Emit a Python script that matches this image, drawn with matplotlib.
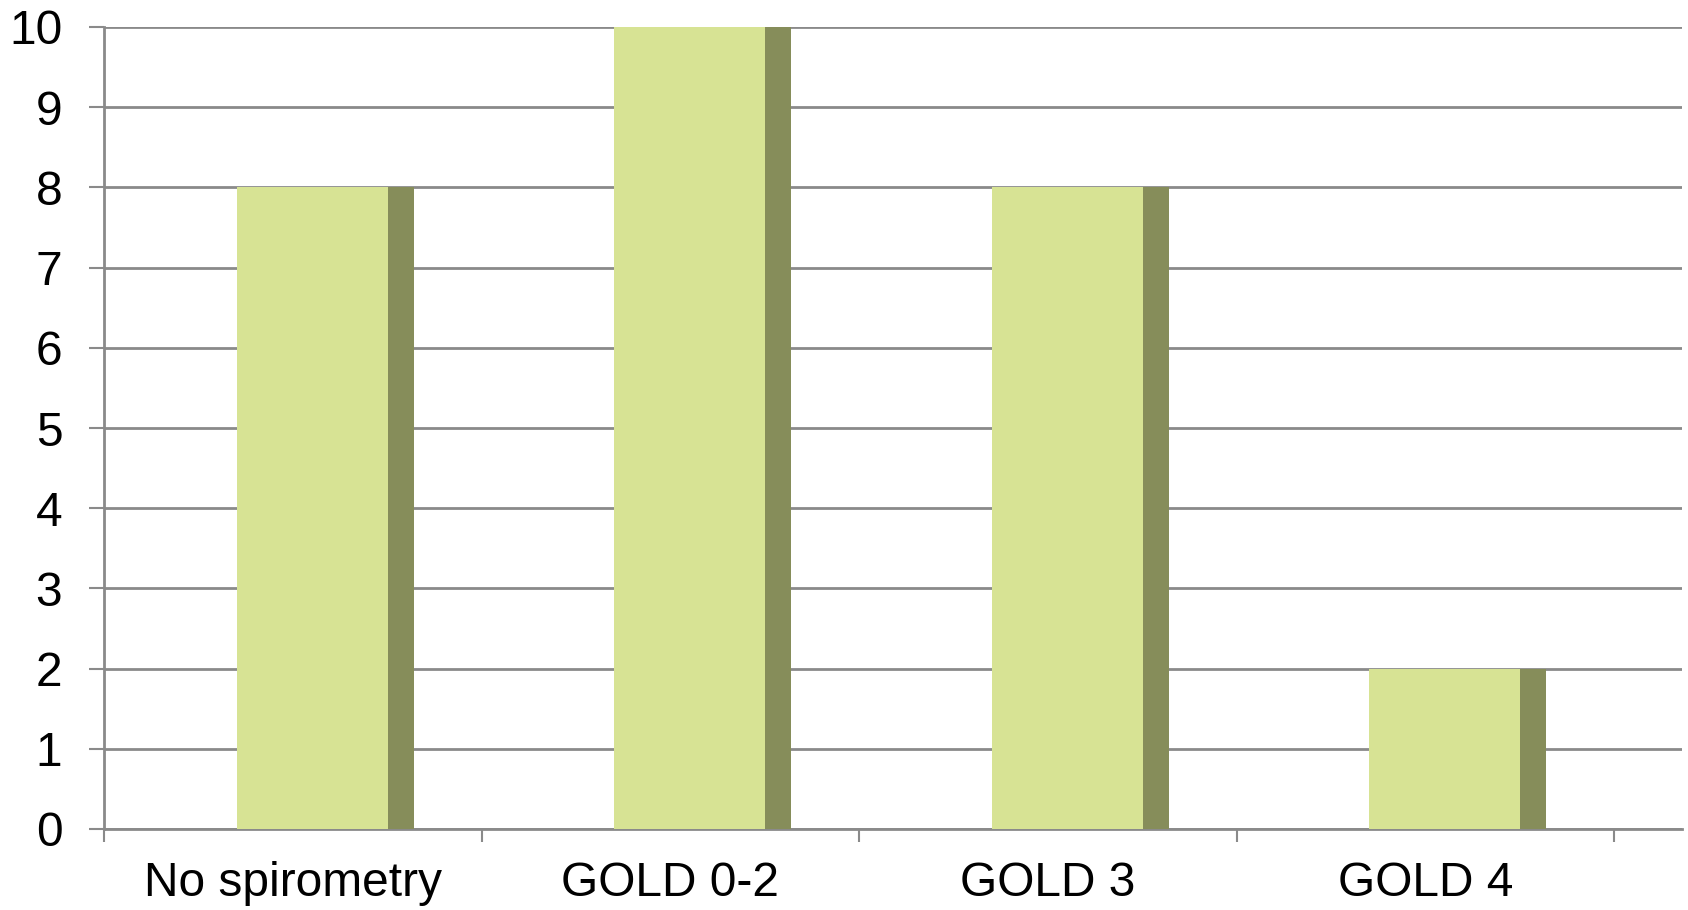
import matplotlib.pyplot as plt
from matplotlib.ticker import FixedLocator

# data
categories = ['No spirometry', 'GOLD 0-2', 'GOLD 3', 'GOLD 4']
values = [8, 10, 8, 2]

plt.rcParams['font.family'] = ['Liberation Sans', 'DejaVu Sans']

fig = plt.figure(figsize=(16.88, 9.10), dpi=100)
ax = fig.add_axes([104/1688, 81/910, (1682-104)/1688, (829-27)/910])

pos = list(range(len(categories)))

# front face and darker side face of each bar
ax.bar([p + 0.352 for p in pos], values, width=0.40, align='edge',
       color='#D7E394', zorder=3)
ax.bar([p + 0.752 for p in pos], values, width=0.069, align='edge',
       color='#868D5A', zorder=3)

ax.set_xlim(0, 4.18)
ax.set_ylim(0, 10)

grid_col = '#8A8A8A'
ax.set_yticks(range(0, 11))
ax.yaxis.grid(True, color=grid_col, linewidth=2.0, zorder=0)
ax.set_axisbelow(True)

# category boundaries as tick marks, names centred between them
ax.xaxis.set_major_locator(FixedLocator([0, 1, 2, 3, 4]))
ax.xaxis.set_minor_locator(FixedLocator([p + 0.5 for p in pos]))
ax.set_xticklabels([])
ax.set_xticklabels(categories, minor=True)
ax.tick_params(axis='x', which='major', length=9, width=1.5, color=grid_col)
ax.tick_params(axis='x', which='minor', length=0, pad=23, labelsize=34.5)
ax.tick_params(axis='y', length=11, width=1.5, color=grid_col, pad=19,
               labelsize=34.5)

for s in ['top', 'right']:
    ax.spines[s].set_visible(False)
for s in ['left', 'bottom']:
    ax.spines[s].set_color(grid_col)
    ax.spines[s].set_linewidth(2.0)

fig.savefig('out.png', dpi=100)
